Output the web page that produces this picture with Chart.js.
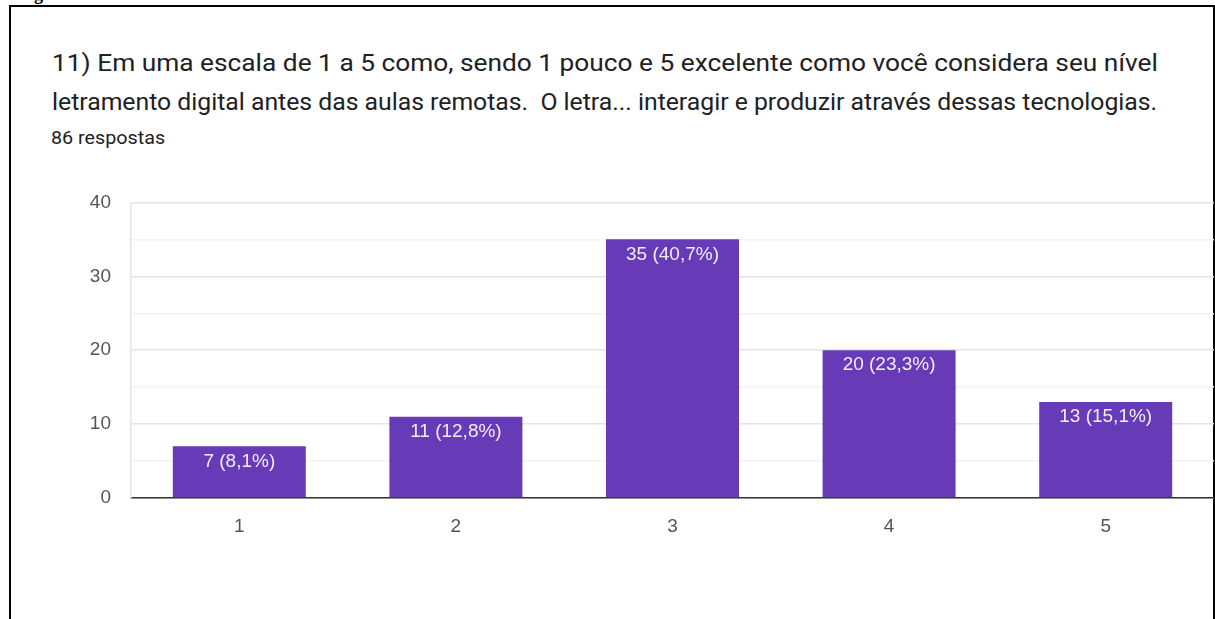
<!DOCTYPE html>
<html lang="pt">
<head>
<meta charset="utf-8">
<script src="https://cdn.jsdelivr.net/npm/chart.js@4"></script>
<style>
    html, body { margin: 0; padding: 0; background: #fff; overflow: hidden; }
    body { width: 1215px; height: 619px; position: relative; font-family: Roboto, "Noto Sans", sans-serif; }
    .caption { position: absolute; left: 18px; top: -16px; font-family: "Liberation Serif", serif; font-weight: bold; font-size: 18px; color: #000; }
    .frame { position: absolute; left: 9px; top: 5px; width: 1202px; height: 700px; border: 2px solid #000; }
    .line { position: absolute; left: 52px; font-size: 24px; line-height: 39px; color: #202124; white-space: nowrap; transform-origin: 0 0; }
    .count { position: absolute; left: 51px; top: 127px; font-size: 18px; color: #202124; transform-origin: 0 0; transform: scaleX(1.096); }
    .chart-box { position: absolute; left: 12px; top: 171px; width: 1202px; height: 384px; }
</style>
</head>
<body>
<div class="caption">Figura</div>
<div class="frame"></div>
<div class="line" id="line1" style="top: 44px;">11) Em uma escala de 1 a 5 como, sendo 1 pouco e 5 excelente como você considera seu nível</div>
<div class="line" id="line2" style="top: 83px;">letramento digital antes das aulas remotas.&nbsp; O letra... interagir e produzir através dessas tecnologias.</div>
<div class="count">86 respostas</div>
<div class="chart-box"><canvas id="chart" width="1202" height="384"></canvas></div>

<script>
const categories = ["1", "2", "3", "4", "5"];
const counts = [7, 11, 35, 20, 13];
const barLabels = ["7 (8,1%)", "11 (12,8%)", "35 (40,7%)", "20 (23,3%)", "13 (15,1%)"];

// the screenshot is a bit stretched sideways: fit each title line to its width
[["line1", 1106], ["line2", 1105]].forEach(([id, w]) => {
    const el = document.getElementById(id);
    el.style.transform = `scaleX(${w / el.scrollWidth})`;
});

const barLabelPlugin = {
    id: "barLabels",
    afterDatasetsDraw(chart) {
        const ctx = chart.ctx;
        const meta = chart.getDatasetMeta(0);
        ctx.save();
        ctx.font = "19px 'Liberation Sans', Arial, sans-serif";
        ctx.fillStyle = "#f1eef8";
        ctx.textAlign = "center";
        ctx.textBaseline = "middle";
        meta.data.forEach((bar, i) => {
            ctx.fillText(barLabels[i], bar.x, bar.y + 15);
        });
        ctx.restore();
    }
};

const tickFont = { family: "'Liberation Sans', Arial, sans-serif", size: 19 };

new Chart(document.getElementById("chart"), {
    type: "bar",
    data: {
        labels: categories,
        datasets: [{
            data: counts,
            backgroundColor: "#673ab7",
            barPercentage: 0.614,
            categoryPercentage: 1
        }]
    },
    options: {
        responsive: false,
        animation: false,
        layout: { padding: { top: 5, right: 0, left: 0, bottom: 0 } },
        plugins: {
            legend: { display: false },
            tooltip: { enabled: false }
        },
        scales: {
            x: {
                grid: { display: false, drawTicks: false },
                border: { color: "#333", width: 1.5 },
                ticks: { color: "#555", padding: 17, font: tickFont },
                afterFit(scale) { scale.height = 57; }
            },
            y: {
                min: 0,
                max: 40,
                ticks: {
                    stepSize: 5,
                    color: "#555",
                    padding: 20,
                    font: tickFont,
                    callback: v => (v % 10 === 0 ? v : "")
                },
                grid: {
                    drawTicks: false,
                    color: ctx => (ctx.tick && ctx.tick.value % 10 === 0 ? "#e4e4e4" : "#f3f3f3"),
                    lineWidth: 1.5
                },
                border: { color: "#e4e4e4", width: 1.5 },
                afterFit(scale) { scale.width = 119; }
            }
        }
    },
    plugins: [barLabelPlugin]
});
</script>
</body>
</html>
